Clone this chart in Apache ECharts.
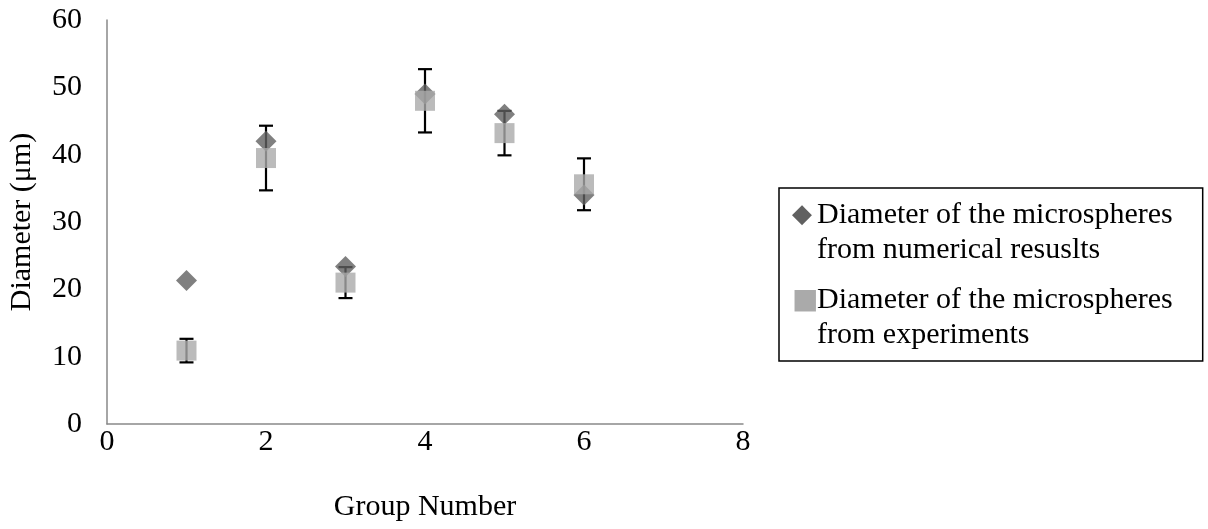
<!DOCTYPE html>
<html>
<head>
<meta charset="utf-8">
<script src="https://cdn.jsdelivr.net/npm/echarts@6/dist/echarts.min.js"></script>
<style>
  html, body { margin: 0; padding: 0; background: #fff; }
  #chart { width: 1208px; height: 529px; }
</style>
</head>
<body>
<div id="chart"></div>
<script>
// Values
const groups = [1, 2, 3, 4, 5, 6];
const numerical = [21.3, 42.0, 23.4, 49.0, 46.0, 34.0];
const experimental = [10.9, 39.5, 21.0, 48.0, 43.2, 35.6];
const expError = [1.75, 4.8, 2.3, 4.7, 3.3, 3.85];

const FONT = '"Liberation Serif", "Times New Roman", serif';
const FS = 30;
const DARK = '#606060';
const LIGHT = '#aaaaaa';
const AXIS = '#898989';

const chart = echarts.init(document.getElementById('chart'));

// error bar data: [x, low, high]
const errData = groups.map((g, i) => [g, experimental[i] - expError[i], experimental[i] + expError[i]]);

const legendText = {
  'Diameter of the microspheres from numerical resuslts':
    '{dm|◆}{t|Diameter of the microspheres}\n{ind| }{t|from numerical resuslts}',
  'Diameter of the microspheres from experiments':
    '{sq|■}{t|Diameter of the microspheres}\n{ind| }{t|from experiments}'
};

const option = {
  backgroundColor: '#fff',
  animation: false,
  textStyle: { fontFamily: FONT, color: '#000' },
  grid: { left: 107, right: 465, top: 20, bottom: 105, containLabel: false, outerBoundsMode: 'none' },
  xAxis: {
    type: 'value',
    min: 0, max: 8, interval: 2,
    name: 'Group Number',
    nameLocation: 'middle',
    nameGap: 68,
    nameTextStyle: { fontFamily: FONT, fontSize: FS, color: '#000' },
    axisLine: { show: true, lineStyle: { color: AXIS, width: 1.5 } },
    axisTick: { show: false },
    splitLine: { show: false },
    axisLabel: { fontFamily: FONT, fontSize: FS, color: '#000', margin: 3 }
  },
  yAxis: {
    type: 'value',
    min: 0, max: 60, interval: 10,
    name: 'Diameter (μm)',
    nameLocation: 'middle',
    nameGap: 70,
    nameTextStyle: { fontFamily: FONT, fontSize: FS, color: '#000' },
    axisLine: { show: true, lineStyle: { color: AXIS, width: 1.5 } },
    axisTick: { show: false },
    splitLine: { show: false },
    axisLabel: { fontFamily: FONT, fontSize: FS, color: '#000', margin: 25 }
  },
  legend: {
    orient: 'vertical',
    left: 779,
    top: 188,
    padding: [10, 30, 8, 8],
    itemGap: 15,
    itemWidth: 0,
    itemHeight: 0,
    icon: 'none',
    borderColor: '#000',
    borderWidth: 1.5,
    data: Object.keys(legendText),
    formatter: name => legendText[name],
    textStyle: {
      fontFamily: FONT,
      fontSize: FS,
      lineHeight: 35,
      color: '#000',
      rich: {
        t: { fontFamily: FONT, fontSize: FS, lineHeight: 35, color: '#000' },
        dm: { fontFamily: 'DejaVu Sans', fontSize: 26, lineHeight: 35, color: DARK, width: 25 },
        sq: { fontFamily: 'DejaVu Sans', fontSize: 28, lineHeight: 35, color: LIGHT, width: 25 },
        ind: { fontSize: FS, lineHeight: 35, width: 25 }
      }
    }
  },
  series: [
    {
      name: 'errorbars',
      type: 'custom',
      z: 1,
      silent: true,
      data: errData,
      renderItem: (params, api) => {
        const x = api.value(0);
        const lo = api.coord([x, api.value(1)]);
        const hi = api.coord([x, api.value(2)]);
        const half = 7;
        const style = { stroke: '#000', lineWidth: 2.2 };
        return {
          type: 'group',
          children: [
            { type: 'line', shape: { x1: lo[0], y1: lo[1], x2: hi[0], y2: hi[1] }, style },
            { type: 'line', shape: { x1: hi[0] - half, y1: hi[1], x2: hi[0] + half, y2: hi[1] }, style },
            { type: 'line', shape: { x1: lo[0] - half, y1: lo[1], x2: lo[0] + half, y2: lo[1] }, style }
          ]
        };
      }
    },
    {
      name: 'Diameter of the microspheres from numerical resuslts',
      type: 'scatter',
      z: 2,
      symbol: 'diamond',
      symbolSize: [21, 21],
      itemStyle: { color: DARK },
      data: groups.map((g, i) => [g, numerical[i]])
    },
    {
      name: 'Diameter of the microspheres from experiments',
      type: 'scatter',
      z: 3,
      symbol: 'rect',
      symbolSize: [20, 20],
      itemStyle: { color: LIGHT },
      data: groups.map((g, i) => [g, experimental[i]])
    }
  ]
};

chart.setOption(option);
</script>
</body>
</html>
